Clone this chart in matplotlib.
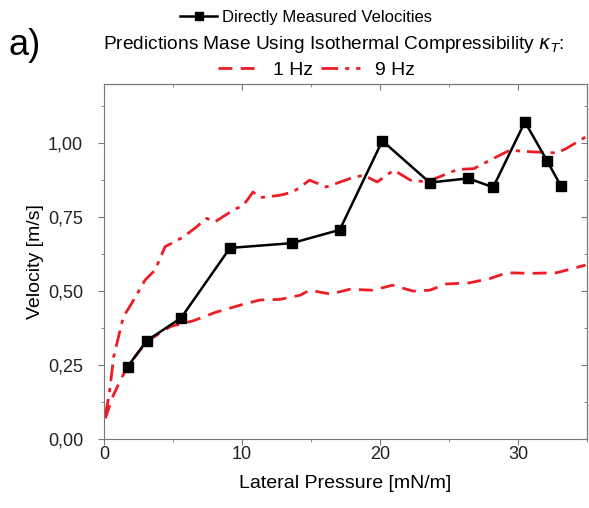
import matplotlib
matplotlib.use("Agg")
import matplotlib.pyplot as plt
from matplotlib.ticker import FuncFormatter, MultipleLocator, NullFormatter
from matplotlib.lines import Line2D

plt.rcParams['font.family'] = ['Liberation Sans', 'DejaVu Sans']

# Directly measured velocities
meas_p = [1.72, 3.09, 5.58, 9.13, 13.6, 17.08, 20.17, 23.6, 26.4, 28.2, 30.5, 32.1, 33.1]
meas_v = [0.245, 0.332, 0.409, 0.646, 0.662, 0.707, 1.008, 0.867, 0.881, 0.851, 1.072, 0.941, 0.856]

# Prediction, 1 Hz
p1_p = [0.1, 0.6, 1.2, 1.7, 3.1, 4.8, 6.5, 8.0, 9.9, 11.3, 12.75, 14.2, 14.9, 16.4,
        17.8, 19.5, 20.9, 22.4, 23.6, 24.8, 26.5, 28.0, 29.2, 30.9, 32.8, 34.9]
p1_v = [0.07, 0.14, 0.20, 0.245, 0.33, 0.38, 0.40, 0.427, 0.453, 0.47, 0.472, 0.486, 0.503, 0.49,
        0.506, 0.503, 0.52, 0.50, 0.503, 0.524, 0.528, 0.543, 0.562, 0.56, 0.562, 0.588]

# Prediction, 9 Hz
p9_p = [0.1, 0.4, 0.7, 1.4, 2.0, 2.97, 3.7, 4.42, 5.75, 6.7, 7.44, 8.04, 9.37, 10.1, 10.8,
        11.3, 12.75, 13.7, 14.9, 16.1, 17.8, 18.8, 19.8, 21.0, 22.2, 23.4, 25.6, 26.8, 28.2,
        29.4, 30.9, 32.8, 33.5, 34.9]
p9_v = [0.08, 0.16, 0.278, 0.413, 0.458, 0.537, 0.571, 0.65, 0.683, 0.717, 0.746, 0.734, 0.774,
        0.79, 0.835, 0.816, 0.824, 0.835, 0.875, 0.852, 0.88, 0.892, 0.869, 0.909, 0.875, 0.869,
        0.911, 0.914, 0.948, 0.976, 0.971, 0.967, 0.982, 1.021]

red = '#ee1c24'
dash1 = (5, 3)
dash9 = (6, 2.5, 1.5, 2.5)

fig = plt.figure(figsize=(5.89, 5.08), dpi=100)
ax = fig.add_axes([0.1766, 0.1358, 0.82, 0.6988])

ax.plot(p1_p, p1_v, color=red, lw=2.0, dashes=dash1)
ax.plot(p9_p, p9_v, color=red, lw=2.0, dashes=dash9)
ax.plot(meas_p, meas_v, color='black', lw=1.8, marker='s', ms=7)

ax.set_xlim(0, 35)
ax.set_ylim(0, 1.2)
ax.xaxis.set_major_locator(MultipleLocator(10))
ax.xaxis.set_minor_locator(MultipleLocator(5))
ax.yaxis.set_major_locator(MultipleLocator(0.25))
ax.yaxis.set_minor_locator(MultipleLocator(0.125))
ax.yaxis.set_major_formatter(FuncFormatter(lambda v, pos: f"{v:.2f}".replace('.', ',')))
ax.tick_params(which='both', direction='out', labelsize=13, colors='#777777', labelcolor='#222222')
ax.tick_params(which='major', length=4)
ax.tick_params(which='minor', length=2.5)
ax.tick_params(axis='x', which='major', pad=1)
ax.tick_params(axis='y', which='major', pad=11)
for s in ax.spines.values():
    s.set_color('#777777')

# top / right ticks point inward
top = ax.secondary_xaxis('top')
top.xaxis.set_major_locator(MultipleLocator(10))
top.xaxis.set_minor_locator(MultipleLocator(5))
top.xaxis.set_major_formatter(NullFormatter())
top.tick_params(which='both', direction='in', colors='#777777')
top.tick_params(which='major', length=4)
top.tick_params(which='minor', length=2.5)
top.spines['top'].set_color('#777777')
right = ax.secondary_yaxis('right')
right.yaxis.set_major_locator(MultipleLocator(0.25))
right.yaxis.set_minor_locator(MultipleLocator(0.125))
right.yaxis.set_major_formatter(NullFormatter())
right.tick_params(which='both', direction='in', colors='#777777')
right.tick_params(which='major', length=4)
right.tick_params(which='minor', length=2.5)
right.spines['right'].set_color('#777777')

ax.set_xlabel('Lateral Pressure [mN/m]', fontsize=14, labelpad=9)
ax.set_ylabel('Velocity [m/s]', fontsize=14, labelpad=3)

# legend block above the plot
h_meas = Line2D([], [], color='black', lw=1.8, marker='s', ms=6)
fig.legend([h_meas], ['Directly Measured Velocities'], loc='center', bbox_to_anchor=(0.52, 0.965),
           frameon=False, fontsize=12, handlelength=2.2, handletextpad=0.3)
fig.text(0.567, 0.913, r'Predictions Mase Using Isothermal Compressibility $\kappa_T$:',
         ha='center', va='center', fontsize=13.8)
h1 = Line2D([], [], color=red, lw=2.0, dashes=dash1)
h9 = Line2D([], [], color=red, lw=2.0, dashes=dash9)
fig.legend([h1, h9], ['1 Hz', '9 Hz'], loc='center', bbox_to_anchor=(0.538, 0.862), ncol=2,
           frameon=False, fontsize=14, handlelength=2.0, handletextpad=0.8, columnspacing=0.4)

fig.text(0.015, 0.91, 'a)', fontsize=26, ha='left', va='center')

fig.savefig('out.png', dpi=100)
